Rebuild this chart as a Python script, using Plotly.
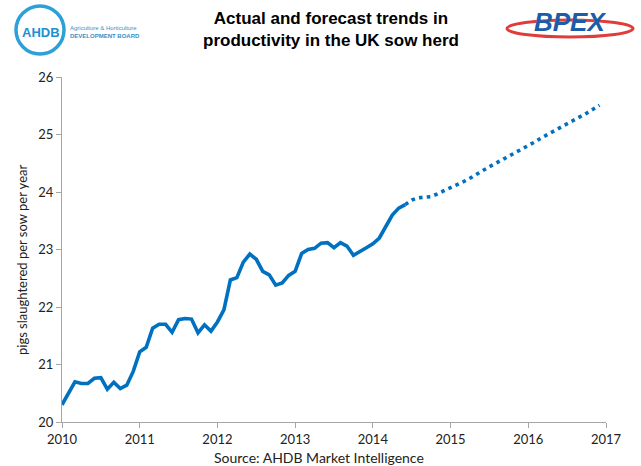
import plotly.graph_objects as go

# Monthly data, Jan 2010 onwards (month index 0 = Jan 2010)
actual_values = [20.30, 20.50, 20.70, 20.67, 20.67, 20.76, 20.77, 20.57, 20.69, 20.58,
                 20.64, 20.88, 21.22, 21.30, 21.63, 21.70, 21.70, 21.56, 21.78, 21.80,
                 21.79, 21.55, 21.69, 21.58, 21.74, 21.95, 22.47, 22.51, 22.78, 22.92,
                 22.83, 22.62, 22.56, 22.38, 22.42, 22.55, 22.62, 22.93, 23.00, 23.02,
                 23.11, 23.12, 23.03, 23.12, 23.06, 22.90, 22.96, 23.03, 23.10, 23.20,
                 23.40, 23.60, 23.72, 23.78]
forecast_values = [23.78, 23.86, 23.90, 23.91, 23.92, 23.97, 24.02, 24.07, 24.12, 24.18,
                   24.24, 24.31, 24.38, 24.44, 24.50, 24.56, 24.63, 24.69, 24.75, 24.81,
                   24.87, 24.94, 25.00, 25.06, 25.13, 25.19, 25.25, 25.31, 25.37, 25.44,
                   25.51]
start_year = 2010
forecast_start_month = 53
year_ticks = [2010, 2011, 2012, 2013, 2014, 2015, 2016, 2017]
y_ticks = [20, 21, 22, 23, 24, 25, 26]

actual_x = [start_year + m / 12 for m in range(len(actual_values))]
forecast_x = [start_year + (forecast_start_month + m) / 12 for m in range(len(forecast_values))]

BLUE = "#0070c0"
AXIS = "#a6a6a6"
FONT = "Lato"

fig = go.Figure()
fig.add_trace(go.Scatter(x=actual_x, y=actual_values, mode="lines",
                         line=dict(color=BLUE, width=3.6), showlegend=False,
                         hoverinfo="skip"))
fig.add_trace(go.Scatter(x=forecast_x, y=forecast_values, mode="lines",
                         line=dict(color=BLUE, width=3.6, dash="3.6px,4.2px"),
                         showlegend=False, hoverinfo="skip"))

W, H = 641, 466
L, R, T, B = 62, 35, 77, 44
pw, ph = W - L - R, H - T - B

def px(x):
    return (x - L) / pw

def py(y):
    return (H - B - y) / ph

fig.update_layout(
    width=W, height=H,
    margin=dict(l=L, r=R, t=T, b=B),
    plot_bgcolor="white", paper_bgcolor="white",
    font=dict(family=FONT, size=13, color="#222"),
    xaxis=dict(range=[2010, 2017], tickvals=year_ticks, ticktext=[str(v) for v in year_ticks],
               showgrid=False, zeroline=False, showline=True, linecolor=AXIS, linewidth=1,
               ticks="outside", ticklen=5, tickcolor=AXIS, tickfont=dict(family=FONT, size=13, color="#222")),
    yaxis=dict(range=[20, 26], tickvals=y_ticks, showgrid=False, zeroline=False,
               showline=True, linecolor=AXIS, linewidth=1, ticks="outside", ticklen=5,
               tickcolor=AXIS, tickfont=dict(family=FONT, size=13, color="#222")),
)

annotations = [
    dict(text="<b>Actual and forecast trends in<br>productivity in the UK sow herd</b>",
         xref="paper", yref="paper", x=px(331), y=py(30), xanchor="center", yanchor="middle",
         showarrow=False, font=dict(family="Liberation Sans, Arial", size=17, color="#000")),
    dict(text="pigs slaughtered per sow per year", textangle=-90,
         xref="paper", yref="paper", x=px(22), y=py(260), xanchor="center", yanchor="middle",
         showarrow=False, font=dict(family=FONT, size=13, color="#222")),
    dict(text="Source: AHDB Market Intelligence",
         xref="paper", yref="paper", x=px(319), y=py(457), xanchor="center", yanchor="middle",
         showarrow=False, font=dict(family=FONT, size=14, color="#222")),
    dict(text="<b>AHDB</b>", xref="paper", yref="paper", x=px(41), y=py(32),
         xanchor="center", yanchor="middle", showarrow=False,
         font=dict(family="Liberation Sans, Arial", size=13, color="#1e8fd0")),
    dict(text="Agriculture &amp; Horticulture<br><b>DEVELOPMENT BOARD</b>", xref="paper", yref="paper",
         x=px(68), y=py(32), xanchor="left", yanchor="middle", showarrow=False, align="left",
         font=dict(family="Liberation Sans, Arial", size=6, color="#3b8fc4")),
    dict(text="<b><i>BPEX</i></b>", xref="paper", yref="paper", x=px(570), y=py(22),
         xanchor="center", yanchor="middle", showarrow=False,
         font=dict(family="Liberation Sans, Arial", size=26, color="#1c5ca8")),
]
fig.update_layout(annotations=annotations)

fig.add_shape(type="circle", xref="paper", yref="paper",
              x0=px(16), x1=px(64), y0=py(54), y1=py(6),
              line=dict(color="#2da0d8", width=3.5))
fig.add_shape(type="circle", xref="paper", yref="paper",
              x0=px(507), x1=px(633), y0=py(37), y1=py(20),
              line=dict(color="#e03c3c", width=3))

fig.write_html("out.html")
